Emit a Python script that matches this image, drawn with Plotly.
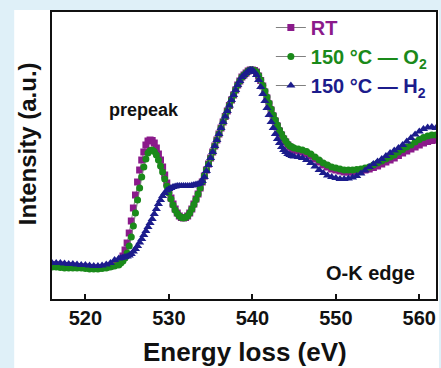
import numpy as np
import plotly.graph_objects as go

# Energy grid (eV): 0.5 eV steps on flat parts, 0.25 eV steps across the edges
energy = np.concatenate([
    np.arange(516.0, 524.01, 0.5),
    np.arange(524.25, 545.01, 0.25),
    np.arange(545.5, 562.01, 0.5),
])

rt = [
    34, 34, 34, 33.5, 33, 33, 32.5, 32, 32, 31.5, 31, 31, 31.5, 32, 33, 34.5, 37,
    39, 43, 49, 56, 66, 78, 91, 104, 117, 129, 139, 147, 154, 158, 159, 158.5,
    156, 151, 145, 139, 132, 124, 116, 108, 101, 95, 90, 86, 83, 81.5, 81, 81.5,
    83, 86, 90, 95, 100, 105, 111, 117, 123, 129, 135, 141, 147, 153, 159, 165,
    171, 177, 182.5, 188, 193.5, 199, 204, 209, 214, 218, 222, 224, 226, 228, 229, 229,
    228.5, 227, 223, 218.5, 213, 207, 201, 195, 189, 183, 178, 173, 168, 164, 160, 157,
    154, 152, 150, 149,
    148, 147, 145.5, 143, 140, 137, 134, 132, 130, 129, 128, 127, 127, 127, 127.5, 128,
    129, 130, 131.5, 133, 135, 137, 139, 141, 143.5, 146, 148, 150, 152, 154, 156,
    157.5, 158.5, 159,
]

o2 = [
    32, 32, 31.5, 31, 31, 31, 31, 31, 30.5, 30, 30, 30, 30.5, 31, 32, 33, 34,
    36, 38, 41, 46, 53, 62, 73, 86, 99, 111, 122, 132, 140, 146, 148.5, 149,
    147.5, 144, 139, 133, 127, 120, 113, 106, 100, 94, 89, 85.5, 83, 81.5, 81, 81.5,
    83, 86, 90, 94.5, 99.5, 105, 111, 117, 123, 129, 135, 141, 147, 153, 159, 165,
    171, 177, 182.5, 188, 193.5, 199, 204, 209, 214, 218, 222, 224, 226, 228, 229, 229,
    228.5, 227, 223.5, 219, 213.5, 208, 202, 196, 190, 184, 179, 174, 169, 165, 161, 158,
    155, 153, 152, 151,
    150, 149, 147.5, 145, 142, 139, 136, 134, 132, 131, 130, 129, 129, 129, 129.5, 130,
    131, 132, 134, 136, 138, 140, 142, 144, 147, 149.5, 152, 154, 157, 159.5, 161.5,
    163, 164, 164,
]

h2 = [
    36, 36, 36, 35.5, 35, 35, 34.5, 34, 34, 33.5, 33, 33, 33.5, 34.5, 36, 39, 40.5,
    41, 41.5, 42, 42.5, 43.5, 45, 47.5, 50, 53, 56.5, 60, 64, 68, 72, 76, 80,
    85, 90, 95, 99, 103, 106, 108.5, 110, 111, 112, 112.5, 113, 113, 113, 113, 113,
    113, 113, 113.5, 114, 114.5, 115, 116, 118, 122, 128, 134, 141, 147, 153, 159, 165,
    171, 177, 182.5, 188, 193.5, 199, 204, 209, 214, 218, 222, 224, 226, 228, 229, 229,
    227, 224, 219, 212, 205, 198, 191, 184, 177, 171, 165, 160, 156, 152, 149, 147,
    145, 144, 143, 142.5,
    142, 141, 139, 136, 132.5, 129, 126, 123.5, 122, 121, 120, 120, 120.5, 121.5, 123, 125.5,
    128.5, 132, 135, 137.5, 140, 143, 146, 148.5, 151, 154, 157.5, 161, 164.5, 167.5, 170,
    171.5, 172, 171,
]

series_names = [
    '<span style="color:#8b1a8b">RT</span>',
    '<span style="color:#1a8a1a">150 °C — O<sub>2</sub></span>',
    '<span style="color:#1c1c8c">150 °C — H<sub>2</sub></span>',
]
colors = ["#8b1a8b", "#1a8a1a", "#1c1c8c"]
symbols = ["square", "circle", "triangle-up"]
sizes = [7, 7, 8]
x_ticks = [520, 530, 540, 550, 560]

fig = go.Figure()
for i, ys in enumerate([rt, o2, h2]):
    fig.add_trace(go.Scatter(
        x=energy, y=ys, mode="lines+markers", name=series_names[i],
        legendgroup=str(i),
        line=dict(color="#808080", width=1),
        marker=dict(symbol=symbols[i], size=sizes[i], color=colors[i], line=dict(width=0)),
    ))

FONT = "Liberation Sans, Arial, sans-serif"
L, R, T, B = 52, 3, 12, 69
W, H = 441, 368
pw, ph = W - L - R, H - T - B

def px(xp):
    return (xp - L) / pw

def py(yp):
    return (H - B - yp) / ph

fig.update_layout(
    width=W, height=H,
    margin=dict(l=L, r=R, t=T, b=B),
    paper_bgcolor="#dff0f8",
    plot_bgcolor="white",
    showlegend=True,
    legend=dict(
        x=px(272), y=py(8), xanchor="left", yanchor="top",
        bgcolor="rgba(0,0,0,0)", borderwidth=0,
        font=dict(family=FONT, size=20, weight=700),
        tracegroupgap=0, itemwidth=30,
    ),
    shapes=[dict(
        type="rect", xref="paper", yref="paper", layer="below",
        x0=px(14), x1=px(441), y0=py(368), y1=py(10),
        fillcolor="white", line=dict(width=0),
    )],
    annotations=[
        dict(text="<b>Energy loss (eV)</b>", xref="paper", yref="paper",
             x=px(246), y=py(352), showarrow=False, xanchor="center", yanchor="middle",
             font=dict(family=FONT, size=26, color="#111")),
        dict(text="<b>Intensity (a.u.)</b>", xref="paper", yref="paper", textangle=-90,
             x=px(27), y=py(144), showarrow=False, xanchor="center", yanchor="middle",
             font=dict(family=FONT, size=24, color="#111")),
        dict(text="<b>prepeak</b>", xref="paper", yref="paper",
             x=px(144), y=py(110), showarrow=False, xanchor="center", yanchor="middle",
             font=dict(family=FONT, size=18, color="#111")),
        dict(text="<b>O-K edge</b>", xref="paper", yref="paper",
             x=px(372), y=py(273), showarrow=False, xanchor="center", yanchor="middle",
             font=dict(family=FONT, size=20, color="#111")),
    ],
)
fig.update_xaxes(
    range=[516, 562], tickvals=x_ticks, ticktext=[f"<b>{v}</b>" for v in x_ticks],
    ticks="inside", ticklen=5, tickwidth=1.5, tickcolor="#111",
    showline=True, linecolor="#111", linewidth=1.5, mirror=True,
    showgrid=False, zeroline=False,
    tickfont=dict(family=FONT, size=20, color="#111"),
)
fig.update_yaxes(
    range=[0, 287], showticklabels=False, ticks="",
    showline=True, linecolor="#111", linewidth=1.5, mirror=True,
    showgrid=False, zeroline=False,
)
fig.write_html("out.html")
